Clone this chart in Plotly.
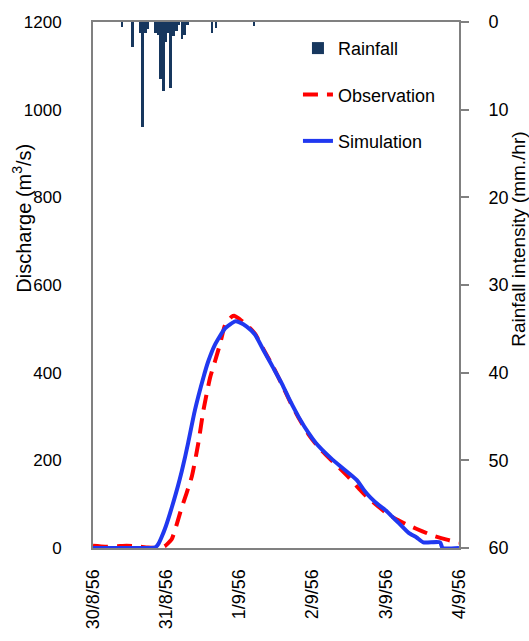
import plotly.graph_objects as go

# Time axis in hours from 30/8/56 00:00
tick_hours = [0, 24, 48, 72, 96, 120]
tick_labels = ["30/8/56", "31/8/56", "1/9/56", "2/9/56", "3/9/56", "4/9/56"]

# Rainfall intensity (mm./hr)
rain_hours = [9.5, 13.0, 15.5, 16.3, 17.1, 18.0, 20.5, 21.3, 22.2, 23.1, 23.9, 24.7,
              25.5, 26.4, 27.3, 28.2, 29.2, 30.1, 30.9, 39.0, 40.3, 52.8]
rain_values = [0.6, 2.8, 1.2, 12.0, 1.2, 0.8, 1.2, 1.5, 6.5, 7.9, 2.3, 1.3,
               7.5, 1.6, 1.0, 0.3, 1.9, 1.5, 0.3, 1.2, 0.7, 0.4]

# Observed discharge (m3/s)
obs_hours = [0, 4, 8, 11, 14, 18, 20.5, 22, 23.5, 25.8, 28.9, 32.4, 34.5, 36.2, 38.4,
             40, 41.6, 43.3, 45.5, 46.3, 47.5, 50.4, 53.1, 56, 59.1, 62, 64.6, 67.5,
             70.6, 73, 75, 78, 81, 84, 87.5, 90, 93.5, 96.5, 99.6, 104, 108, 111.6, 116, 120]
obs_values = [5, 3, 4, 5, 4, 1, 0, 0, 4, 20, 88, 163, 238, 314, 389,
              426, 464, 509, 528, 530, 525, 509, 489, 452, 413, 372, 334, 296,
              260, 238, 222, 201, 181, 160, 133, 115, 95, 78, 65, 50, 38, 28, 19, 12]

# Simulated discharge (m3/s)
sim_hours = [0, 10, 19, 20.5, 21.5, 22.5, 23.8, 25.2, 26.5, 27.8, 29.1, 30.2, 31.2,
             33.4, 36.2, 37.8, 40, 43.3, 46.6, 48.2, 50.4, 53.1, 56, 59.1, 62, 64.6,
             67.5, 70.6, 73, 75, 78, 81, 84, 86.5, 89.2, 91, 93.5, 96.3, 98, 100.1,
             103.4, 106.1, 108.3, 113.8, 114.6, 120]
sim_values = [0, 0, 0, 2, 10, 25, 48, 78, 108, 140, 175, 208, 240,
              314, 389, 426, 464, 501, 517, 514, 505, 487, 450, 411, 374, 336,
              298, 263, 240, 225, 205, 187, 170, 155, 129, 115, 99, 84, 72, 58,
              35, 24, 13, 13, 0, 0]

AXIS_GRAY = "#808080"
FONT = "Liberation Sans, Arial, sans-serif"

fig = go.Figure()
fig.add_trace(go.Bar(
    x=rain_hours, y=rain_values, width=0.9, yaxis="y2",
    marker=dict(color="#17375E", line=dict(width=0)),
    name="Rainfall", legendgroup="a",
))
fig.add_trace(go.Scatter(
    x=obs_hours, y=obs_values, mode="lines",
    line=dict(color="#FF0000", width=4, dash="15px,9px", shape="spline", smoothing=0.5),
    name="Observation", legendgroup="b",
))
fig.add_trace(go.Scatter(
    x=sim_hours, y=sim_values, mode="lines",
    line=dict(color="#2038F0", width=4, shape="spline", smoothing=0.5),
    name="Simulation", legendgroup="c",
))

fig.update_layout(
    width=529, height=641,
    margin=dict(l=93, r=70, t=17, b=92),
    paper_bgcolor="white", plot_bgcolor="white",
    font=dict(family=FONT, size=18, color="black"),
    showlegend=True,
    legend=dict(x=0.56, y=0.985, xanchor="left", yanchor="top",
                bgcolor="rgba(0,0,0,0)", tracegroupgap=20,
                font=dict(size=18)),
    bargap=0,
    xaxis=dict(
        range=[0, 120], tickmode="array", tickvals=tick_hours, ticktext=tick_labels,
        tickangle=-90, showline=True, linecolor=AXIS_GRAY, linewidth=2, mirror=True,
        ticks="", showgrid=False, zeroline=False, ticklabelstandoff=12,
        tickfont=dict(size=18),
    ),
    yaxis=dict(
        range=[0, 1200], dtick=200, showline=True, linecolor=AXIS_GRAY, linewidth=2,
        ticks="", showgrid=False, zeroline=False, ticklabelstandoff=26,
        tickfont=dict(size=17),
    ),
    yaxis2=dict(
        range=[60, 0], dtick=10, overlaying="y", side="right", showline=True,
        linecolor=AXIS_GRAY, linewidth=2, ticks="outside", ticklen=8,
        tickcolor=AXIS_GRAY, tickwidth=2, showgrid=False, zeroline=False,
        ticklabelstandoff=16, tickfont=dict(size=18),
    ),
    annotations=[
        dict(text="Discharge (m<sup>3</sup>/s)", textangle=-90, xref="paper", yref="paper",
             x=-0.194, y=0.628, xanchor="center", yanchor="middle", showarrow=False,
             font=dict(size=20)),
        dict(text="Rainfall intensity (mm./hr)", textangle=-90, xref="paper", yref="paper",
             x=1.164, y=0.586, xanchor="center", yanchor="middle", showarrow=False,
             font=dict(size=19)),
    ],
)

fig.write_html("out.html")
